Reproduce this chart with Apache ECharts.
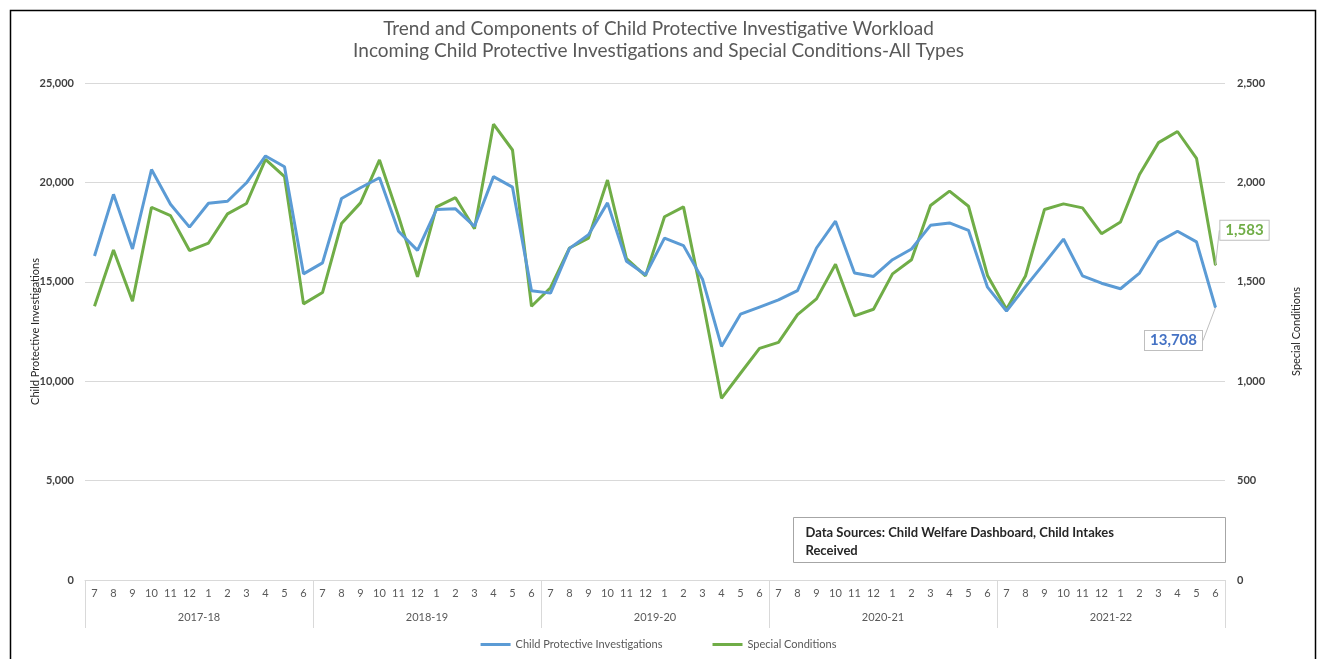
<!DOCTYPE html>
<html>
<head>
<meta charset="utf-8">
<script src="https://cdn.jsdelivr.net/npm/echarts@6/dist/echarts.min.js"></script>
<style>
html,body{margin:0;padding:0;background:#fff;}
#c{width:1317px;height:659px;}
</style>
</head>
<body>
<div id="c"></div>
<script>
const months = ['7','8','9','10','11','12','1','2','3','4','5','6'];
const fiscalYears = ['2017-18','2018-19','2019-20','2020-21','2021-22'];
const categories = [];
fiscalYears.forEach(fy => months.forEach(m => categories.push(fy + '|' + m)));

const childProtectiveInvestigations = [
  16300, 19400, 16650, 20650, 18900, 17750, 18950, 19050, 19980, 21330, 20790, 15400,
  15950, 19190, 19730, 20235, 17540, 16580, 18640, 18670, 17790, 20290, 19760, 14545,
  14430, 16680, 17370, 18970, 16030, 15350, 17200, 16820, 15130, 11750, 13370, 13730,
  14090, 14560, 16700, 18050, 15440, 15270, 16110, 16650, 17840, 17960, 17590, 14730,
  13530, 14760, 15940, 17150, 15300, 14930, 14650, 15440, 17010, 17540, 17010, 13708
];
const specialConditions = [
  1377, 1660, 1402, 1875, 1833, 1657, 1695, 1842, 1894, 2116, 2029, 1389,
  1446, 1793, 1897, 2113, 1830, 1525, 1877, 1923, 1767, 2293, 2163, 1377,
  1470, 1670, 1720, 2012, 1616, 1530, 1827, 1877, 1410, 914, 1040, 1165,
  1195, 1335, 1414, 1588, 1329, 1362, 1540, 1611, 1884, 1956, 1880, 1532,
  1362, 1529, 1864, 1892, 1872, 1742, 1801, 2040, 2200, 2256, 2121, 1583
];

const seriesNames = ['Child Protective Investigations', 'Special Conditions'];
const titleLines = ['Trend and Components of Child Protective Investigative Workload',
                    'Incoming Child Protective Investigations and Special Conditions-All Types'];
const sourceNote = 'Data Sources: Child Welfare Dashboard, Child Intakes\nReceived';

const FONT = 'Lato';
const blue = '#5b9bd5', green = '#70ad47';

function withLastLabel(arr, labelCfg) {
  return arr.map((v, i) => i === arr.length - 1 ? {value: v, label: labelCfg, symbolSize: 1} : v);
}

const chart = echarts.init(document.getElementById('c'));
const option = {
  backgroundColor: '#fff',
  animation: false,
  textStyle: {fontFamily: FONT},
  title: {
    text: titleLines.join('\n'),
    left: 'center',
    top: 13,
    textStyle: {fontFamily: FONT, fontSize: 19, fontWeight: 'normal', color: '#595959', lineHeight: 22}
  },
  legend: {
    bottom: 4,
    left: 'center',
    itemWidth: 30,
    itemHeight: 3,
    itemGap: 50,
    icon: 'rect',
    textStyle: {fontFamily: FONT, fontSize: 11, color: '#595959'},
    data: seriesNames
  },
  grid: {left: 85, right: 92, top: 83, bottom: 79, containLabel: false},
  xAxis: [
    {
      type: 'category',
      data: categories,
      boundaryGap: true,
      axisLine: {show: true, lineStyle: {color: '#d9d9d9'}},
      axisTick: {show: false},
      axisLabel: {
        interval: 0, margin: 8, fontSize: 11, color: '#595959', fontFamily: FONT,
        formatter: v => v.split('|')[1]
      }
    },
    {
      type: 'category',
      position: 'bottom',
      data: fiscalYears,
      boundaryGap: true,
      axisLine: {show: false},
      axisTick: {show: true, length: 48, lineStyle: {color: '#d9d9d9'}},
      axisLabel: {margin: 32, fontSize: 11, color: '#595959', fontFamily: FONT}
    }
  ],
  yAxis: [
    {
      type: 'value', min: 0, max: 25000, interval: 5000,
      name: 'Child Protective Investigations',
      nameLocation: 'middle', nameGap: 44, nameRotate: 90, nameMoveOverlap: false,
      nameTextStyle: {fontFamily: FONT, fontSize: 11, color: '#262626'},
      axisLine: {show: false}, axisTick: {show: false},
      splitLine: {lineStyle: {color: '#d9d9d9', width: 1}},
      axisLabel: {margin: 11, fontSize: 11, fontWeight: 'bold', color: '#404040', fontFamily: FONT,
        formatter: v => v.toLocaleString('en-US')}
    },
    {
      type: 'value', min: 0, max: 2500, interval: 500,
      name: 'Special Conditions',
      nameLocation: 'middle', nameGap: 66, nameRotate: 90, nameMoveOverlap: false,
      nameTextStyle: {fontFamily: FONT, fontSize: 11, color: '#262626'},
      axisLine: {show: false}, axisTick: {show: false},
      splitLine: {show: false},
      axisLabel: {margin: 12, fontSize: 11, fontWeight: 'bold', color: '#404040', fontFamily: FONT,
        formatter: v => v.toLocaleString('en-US')}
    }
  ],
  series: [
    {
      name: seriesNames[0],
      type: 'line',
      xAxisIndex: 0, yAxisIndex: 0,
      data: withLastLabel(childProtectiveInvestigations, {
        show: true, position: 'inside',
        formatter: p => p.value.toLocaleString('en-US'),
        fontFamily: FONT, fontSize: 15, fontWeight: 'bold', color: '#4472c4',
        backgroundColor: '#fff', borderColor: '#bfbfbf', borderWidth: 1, padding: [3, 5, 1, 5]
      }),
      symbol: 'circle', symbolSize: 0, showSymbol: true,
      lineStyle: {color: blue, width: 3},
      itemStyle: {color: blue},
      labelLayout: p => ({dx: -42, dy: 33}),
      labelLine: {show: true, lineStyle: {color: '#bfbfbf', width: 1}},
      z: 3
    },
    {
      name: seriesNames[1],
      type: 'line',
      xAxisIndex: 0, yAxisIndex: 1,
      data: withLastLabel(specialConditions, {
        show: true, position: 'inside',
        formatter: p => p.value.toLocaleString('en-US'),
        fontFamily: FONT, fontSize: 15, fontWeight: 'bold', color: green,
        backgroundColor: '#fff', borderColor: '#bfbfbf', borderWidth: 1, padding: [3, 5, 1, 5]
      }),
      symbol: 'circle', symbolSize: 0, showSymbol: true,
      lineStyle: {color: green, width: 3},
      itemStyle: {color: green},
      labelLayout: p => ({dx: 29, dy: -35}),
      labelLine: {show: true, lineStyle: {color: '#bfbfbf', width: 1}},
      z: 2
    }
  ],
  graphic: [
    {
      type: 'rect', left: 8, top: 8, z: 100, silent: true,
      shape: {width: 1305, height: 660},
      style: {fill: 'none', stroke: '#000', lineWidth: 1.5}
    },
    {
      type: 'group', left: 793, top: 517, z: 50,
      children: [
        {type: 'rect', shape: {width: 432, height: 45},
         style: {fill: '#fff', stroke: '#a6a6a6', lineWidth: 1}},
        {type: 'text', left: 12, top: 6,
         style: {text: sourceNote, fontFamily: FONT, fontSize: 13, fontWeight: 'bold',
                 fill: '#262626', lineHeight: 18}}
      ]
    }
  ]
};
chart.setOption(option);
</script>
</body>
</html>
